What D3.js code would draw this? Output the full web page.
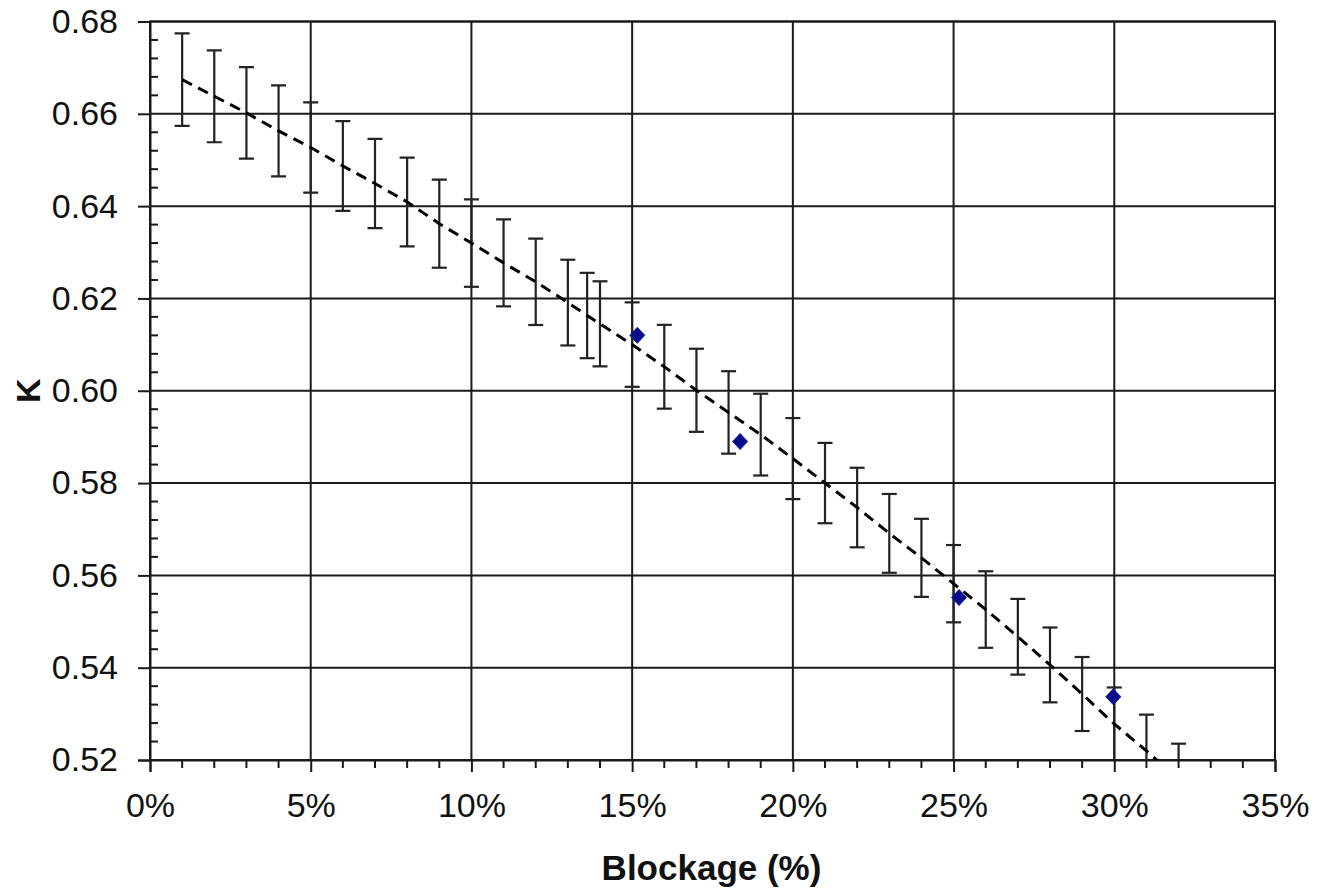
<!DOCTYPE html>
<html>
<head>
<meta charset="utf-8">
<script src="https://cdn.jsdelivr.net/npm/d3@7"></script>
<style>
  html, body { margin: 0; padding: 0; background: #fff; }
  svg { display: block; font-family: "Liberation Sans", Arial, sans-serif; }
</style>
</head>
<body>
<svg id="chart" width="1327" height="894"></svg>
<script>
// Blockage (%) positions of the fitted K curve, with its error bars
const blockage = [1, 2, 3, 4, 5, 6, 7, 8, 9, 10, 11, 12, 13, 13.6, 14, 15, 16, 17, 18, 19,
                  20, 21, 22, 23, 24, 25, 26, 27, 28, 29, 30, 31, 32];
const kFit = [0.6674, 0.6638, 0.6602, 0.6563, 0.6527, 0.6487, 0.6449, 0.6409, 0.6362, 0.6320,
              0.6277, 0.6236, 0.6191, 0.6163, 0.6145, 0.6100, 0.6052, 0.6001, 0.5953, 0.5905,
              0.5853, 0.5800, 0.5747, 0.5691, 0.5638, 0.5582, 0.5526, 0.5467, 0.5406, 0.5343,
              0.5278, 0.5220, 0.5158];
// Error bars are a fixed percentage of each fitted value
const errorPercent = 1.5;

// Measured points
const measBlockage = [15.16, 18.36, 25.17, 29.97];
const measK = [0.6120, 0.5890, 0.5552, 0.5337];

// Axis ticks
const xTicks = [0, 5, 10, 15, 20, 25, 30, 35];
const yTicks = [0.52, 0.54, 0.56, 0.58, 0.60, 0.62, 0.64, 0.66, 0.68];

const W = 1327, H = 894;
const margin = { left: 150, right: 52, top: 21.5, bottom: 134 };
const x0 = margin.left, x1 = W - margin.right;
const y0 = H - margin.bottom, y1 = margin.top;

const x = d3.scaleLinear().domain([0, 35]).range([x0, x1]);
const y = d3.scaleLinear().domain([0.52, 0.68]).range([y0, y1]);

const svg = d3.select("#chart");
svg.append("rect").attr("width", W).attr("height", H).attr("fill", "#fff");

svg.append("defs").append("clipPath").attr("id", "plotClip")
  .append("rect").attr("x", x0).attr("y", y1).attr("width", x1 - x0).attr("height", y0 - y1);

const ink = "#1a1a1a";

// Grid
const grid = svg.append("g").attr("stroke", ink).attr("stroke-width", 2);
grid.selectAll("line.h").data(yTicks).join("line").attr("class", "h")
  .attr("x1", x0).attr("x2", x1).attr("y1", d => y(d)).attr("y2", d => y(d));
grid.selectAll("line.v").data(xTicks).join("line").attr("class", "v")
  .attr("x1", d => x(d)).attr("x2", d => x(d)).attr("y1", y1).attr("y2", y0);
svg.append("rect").attr("x", x0).attr("y", y1).attr("width", x1 - x0).attr("height", y0 - y1)
  .attr("fill", "none").attr("stroke", ink).attr("stroke-width", 2);

// Minor ticks
const yMinor = d3.range(0, 41).map(i => 0.52 + i * 0.004).filter((d, i) => i % 5 !== 0);
svg.append("g").attr("stroke", ink).attr("stroke-width", 2)
  .selectAll("line").data(yMinor).join("line")
  .attr("x1", x0).attr("x2", x0 + 8).attr("y1", d => y(d)).attr("y2", d => y(d));
const xMinor = d3.range(0, 36).filter(d => d % 5 !== 0);
svg.append("g").attr("stroke", ink).attr("stroke-width", 2)
  .selectAll("line").data(xMinor).join("line")
  .attr("x1", d => x(d)).attr("x2", d => x(d)).attr("y1", y0).attr("y2", y0 + 8);

// Axes
const yAxis = svg.append("g").attr("transform", `translate(${x0},0)`)
  .call(d3.axisLeft(y).tickValues(yTicks).tickSize(12).tickPadding(20).tickFormat(d3.format(".2f")));
const xAxis = svg.append("g").attr("transform", `translate(0,${y0})`)
  .call(d3.axisBottom(x).tickValues(xTicks).tickSize(12).tickPadding(21).tickFormat(d => d + "%"));
[yAxis, xAxis].forEach(a => {
  a.select(".domain").attr("stroke", ink).attr("stroke-width", 2);
  a.selectAll(".tick line").attr("stroke", ink).attr("stroke-width", 2);
  a.selectAll(".tick text").attr("fill", "#111").attr("font-size", 34)
    .attr("font-family", "'Liberation Sans', Arial, sans-serif");
});

// Axis titles
svg.append("text").attr("x", (x0 + x1) / 2 - 1).attr("y", 880).attr("text-anchor", "middle")
  .attr("font-size", 35).attr("font-weight", "bold").attr("fill", "#111").text("Blockage (%)");
svg.append("text").attr("transform", `translate(40,${(y0 + y1) / 2}) rotate(-90)`)
  .attr("text-anchor", "middle").attr("font-size", 34).attr("font-weight", "bold")
  .attr("fill", "#111").text("K");

const plot = svg.append("g").attr("clip-path", "url(#plotClip)");
const fit = blockage.map((b, i) => ({ b, k: kFit[i] }));

// Error bars
const cap = 7.5;
const eb = plot.append("g").attr("stroke", "#222").attr("stroke-width", 2.2).attr("fill", "none");
fit.forEach(d => {
  const e = d.k * errorPercent / 100;
  const xs = x(d.b), yt = y(d.k + e), yb = y(d.k - e);
  eb.append("line").attr("x1", xs).attr("x2", xs).attr("y1", yt).attr("y2", yb);
  eb.append("line").attr("x1", xs - cap).attr("x2", xs + cap).attr("y1", yt).attr("y2", yt);
  eb.append("line").attr("x1", xs - cap).attr("x2", xs + cap).attr("y1", yb).attr("y2", yb);
});

// Fitted curve
plot.append("path").datum(fit)
  .attr("d", d3.line().x(d => x(d.b)).y(d => y(d.k)))
  .attr("fill", "none").attr("stroke", "#000").attr("stroke-width", 3)
  .attr("stroke-dasharray", "11,7");

// Measured points (diamonds)
const meas = measBlockage.map((b, i) => ({ b, k: measK[i] }));
plot.selectAll("path.pt").data(meas).join("path").attr("class", "pt")
  .attr("transform", d => `translate(${x(d.b)},${y(d.k)})`)
  .attr("d", "M0,-8L7.5,0L0,8L-7.5,0Z")
  .attr("fill", "#0a0a8c").attr("stroke", "#1a1a9a").attr("stroke-width", 1);
</script>
</body>
</html>
